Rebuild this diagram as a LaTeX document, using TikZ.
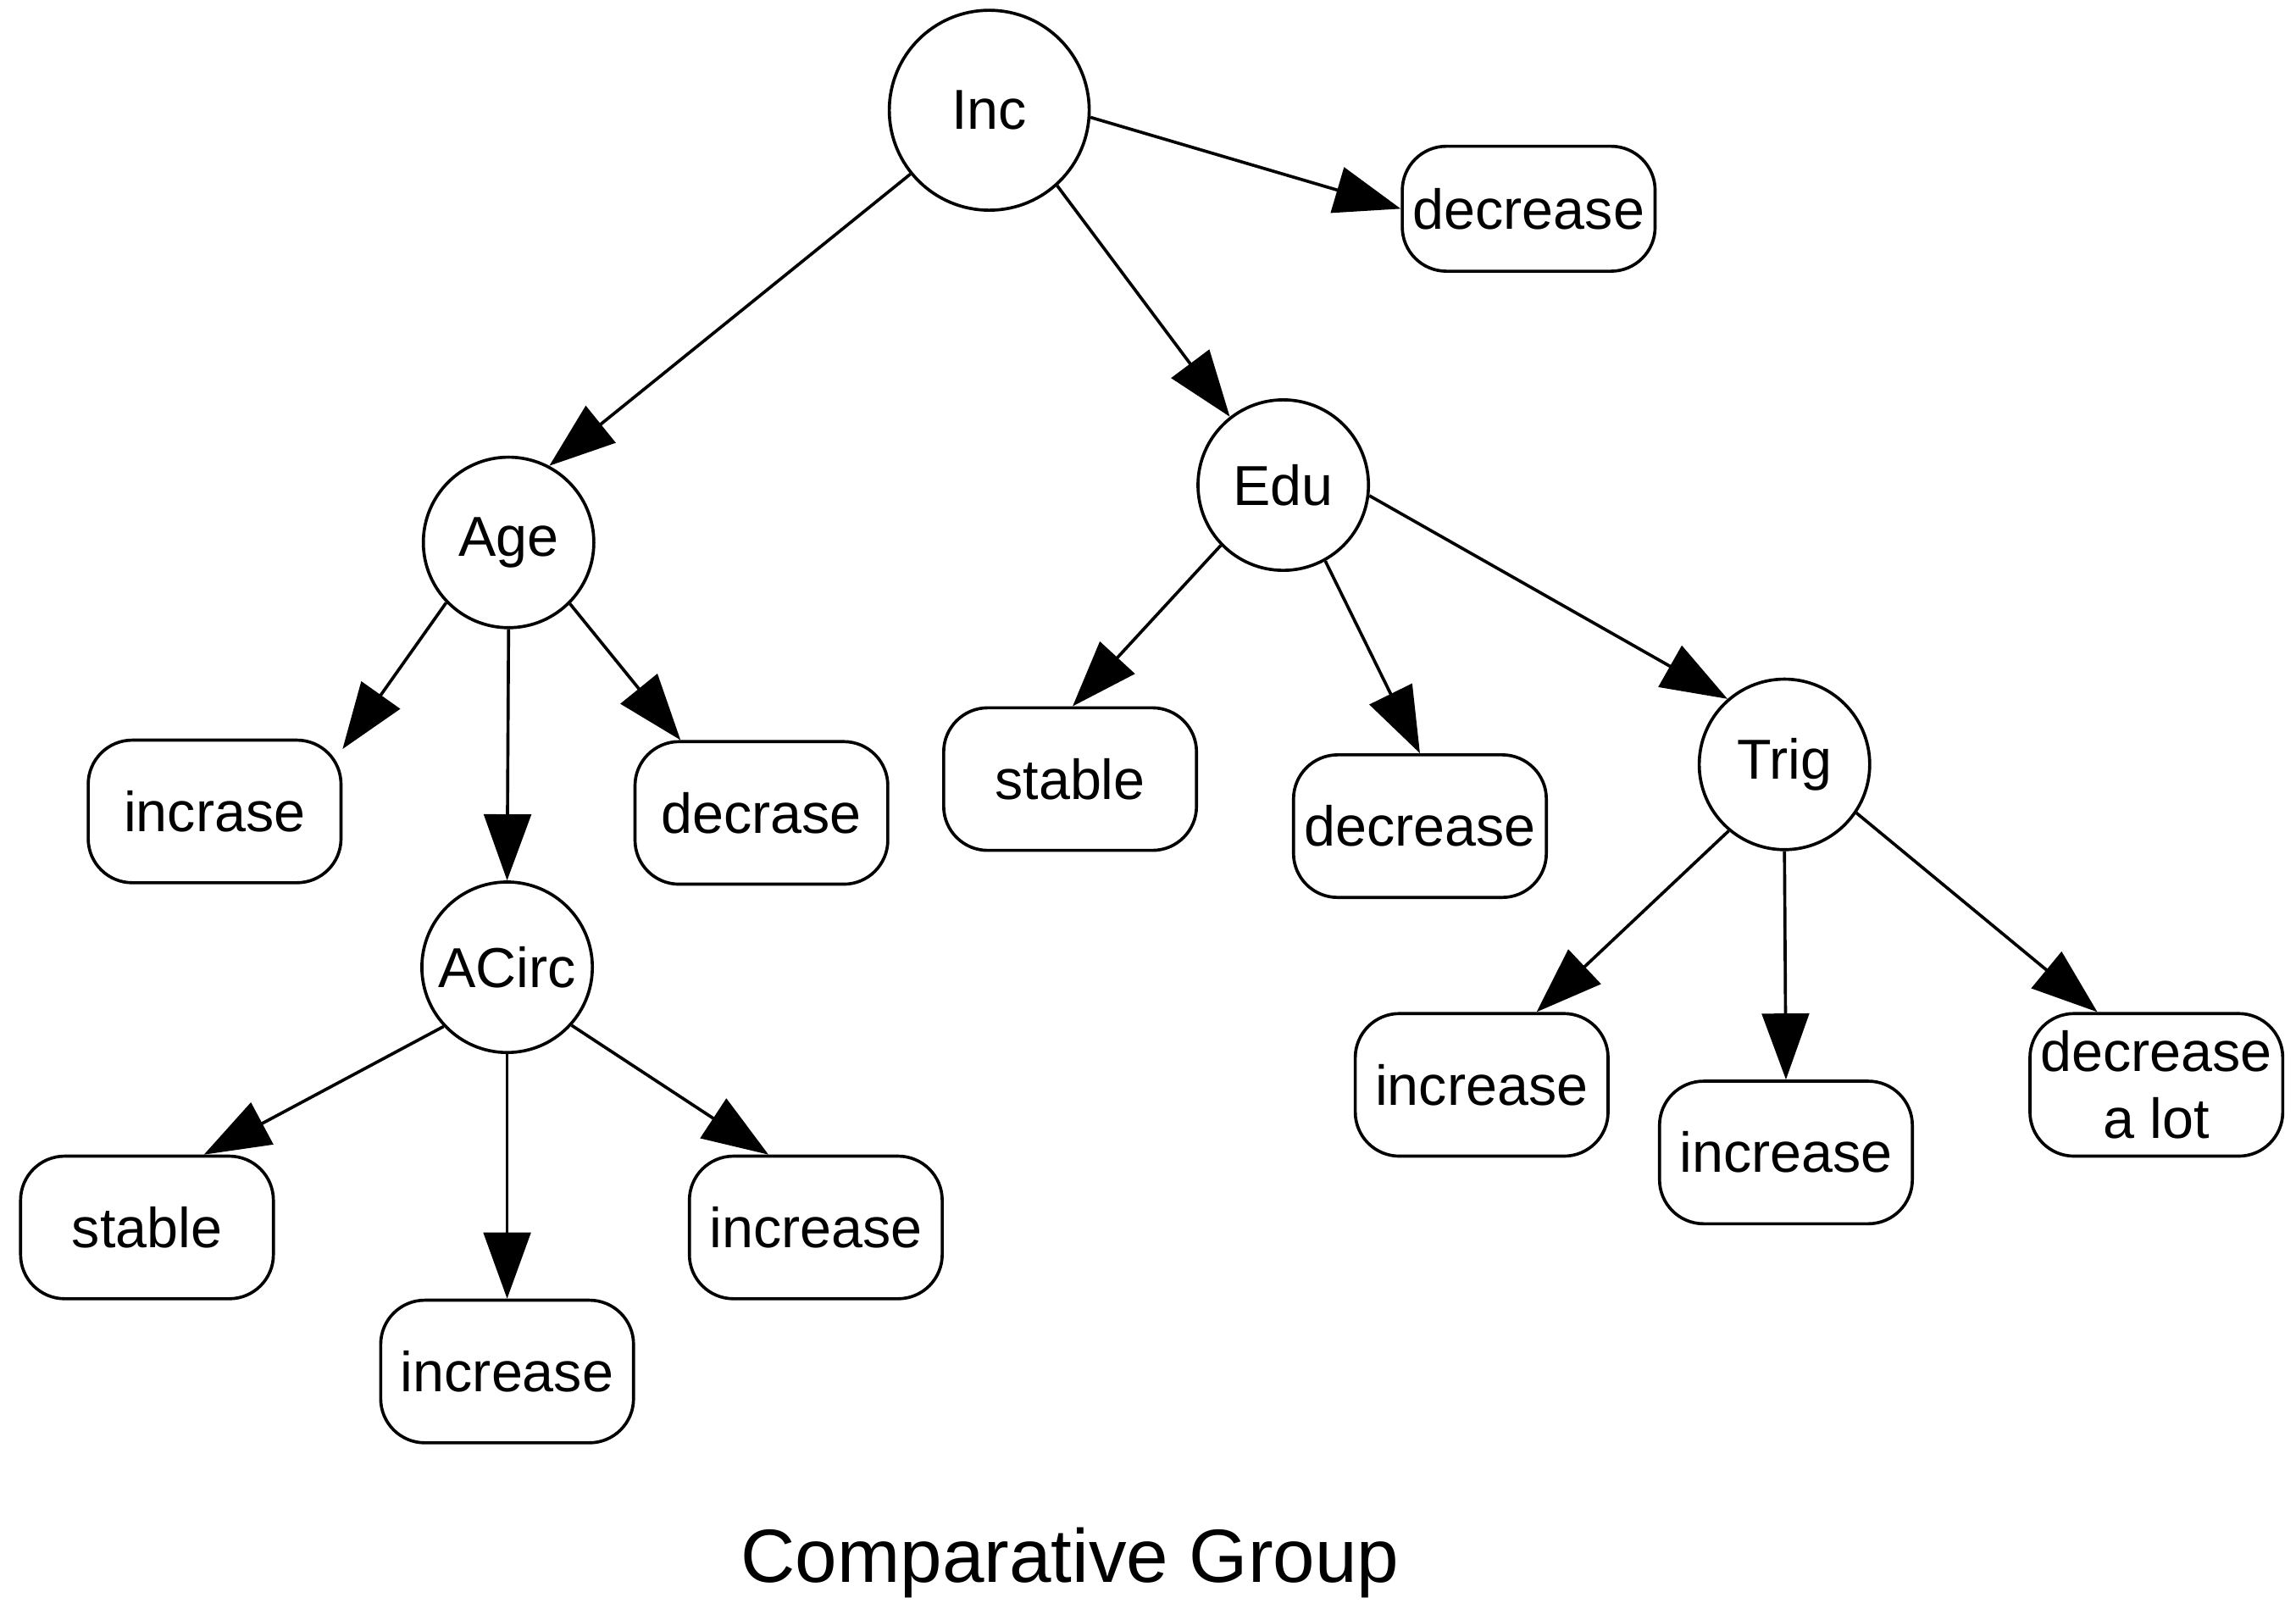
\documentclass[tikz,border=0pt]{standalone}
\usepackage{fontspec}
\setmainfont{Liberation Sans}
\usetikzlibrary{arrows.meta}
\tikzset{
  var/.style={draw, circle, line width=0.6pt, minimum size=11.6mm, inner sep=0pt,
    font=\fontsize{10.9}{13}\selectfont},
  leaf/.style={draw, rectangle, rounded corners=3mm, line width=0.6pt,
    minimum width=17.2mm, minimum height=9.7mm, inner sep=0pt, align=center,
    font=\fontsize{10.9}{13}\selectfont},
  edge/.style={-{Triangle[length=4.5mm,width=3.2mm]}, line width=0.6pt},
  caption/.style={font=\fontsize{14.6}{17}\selectfont}
}
\begin{document}
\begin{tikzpicture}[x=0.1mm, y=-0.1mm]
  \useasboundingbox (0,0) rectangle (1562,1102);

  % inner nodes
  \node[var, minimum size=13.6mm] (inc) at (673,75) {Inc};
  \node[var] (age) at (346,369) {Age};
  \node[var] (edu) at (873,330) {Edu};
  \node[var] (acirc) at (345,658) {ACirc};
  \node[var] (trig) at (1214,520) {Trig};

  % leaves
  \node[leaf, minimum height=8.5mm] (incdec) at (1040,142) {decrease};
  \node[leaf] (ageinc) at (146,552) {incrase};
  \node[leaf] (agedec) at (518,553) {decrase};
  \node[leaf] (acstab) at (100,835) {stable};
  \node[leaf] (acinca) at (345,933) {increase};
  \node[leaf] (acincb) at (555,835) {increase};
  \node[leaf] (edustab) at (728,530) {stable};
  \node[leaf] (edudec) at (966,562) {decrease};
  \node[leaf] (trinca) at (1008,738) {increase};
  \node[leaf] (trincb) at (1215,784) {increase};
  \node[leaf] (trdec) at (1467,738) {decrease\\a lot};

  % edges
  \draw[edge] (inc.219) -- (age.62);
  \draw[edge] (inc.-48) -- (edu.128);
  \draw[edge] (inc.-4) -- (incdec.west);
  \draw[edge] (age.224) -- (ageinc.26);
  \draw[edge] (age.south) -- (acirc.north);
  \draw[edge] (age.-45) -- (agedec.138);
  \draw[edge] (acirc.223) -- (acstab.52);
  \draw[edge] (acirc.south) -- (acinca.north);
  \draw[edge] (acirc.-42) -- (acincb.123);
  \draw[edge] (edu.224) -- (edustab.88);
  \draw[edge] (edu.-61) -- (edudec.north);
  \draw[edge] (edu.-7) -- (trig.131);
  \draw[edge] (trig.230) -- (trinca.53);
  \draw[edge] (trig.south) -- (trincb.north);
  \draw[edge] (trig.-34) -- (trdec.129);

  \node[caption] (title) at (728,1063) {Comparative Group};
\end{tikzpicture}
\end{document}
